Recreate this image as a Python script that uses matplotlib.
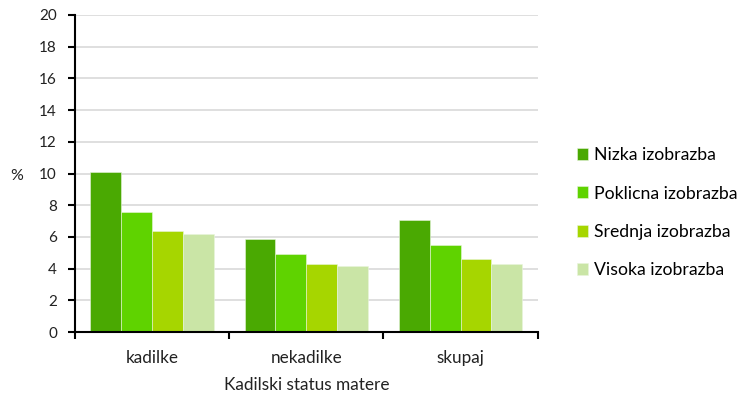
import numpy as np
import matplotlib.pyplot as plt

plt.rcParams['font.family'] = ['Lato', 'DejaVu Sans']

categories = ['kadilke', 'nekadilke', 'skupaj']
series = ['Nizka izobrazba', 'Poklicna izobrazba', 'Srednja izobrazba', 'Visoka izobrazba']
nizka = [10.1, 5.9, 7.1]
poklicna = [7.6, 4.9, 5.5]
srednja = [6.4, 4.3, 4.6]
visoka = [6.2, 4.2, 4.3]
colors = ['#4aa902', '#5fd300', '#a6d600', '#cae5a6']

fig = plt.figure(figsize=(7.38, 3.94), dpi=100)
ax = fig.add_axes([0.1016, 0.157, 0.627, 0.805])

x = np.arange(len(categories))
width = 0.2
for i, (vals, name) in enumerate(zip([nizka, poklicna, srednja, visoka], series)):
    ax.bar(x + (i - 1.5) * width, vals, width, color=colors[i], label=name,
           edgecolor='#e8f5dc', linewidth=0.4, zorder=3)

ax.set_xlim(-0.5, len(categories) - 0.5)
ax.set_ylim(0, 20)
ax.set_yticks(range(0, 21, 2))
ax.yaxis.grid(True, color='#d9d9d9', linewidth=1.2, zorder=0)

# category labels centred, tick marks on group boundaries
ax.set_xticks(x)
ax.set_xticklabels(categories, fontsize=12.3, color='#222222')
ax.set_xticks(np.arange(-0.5, len(categories), 1), minor=True)
ax.tick_params(axis='x', which='major', length=0, pad=13)
ax.tick_params(axis='x', which='minor', length=5, width=1.5, direction='out')
ax.tick_params(axis='y', length=5, width=1.5, direction='out', labelsize=11,
               labelcolor='#222222', pad=8)

for s in ['top', 'right']:
    ax.spines[s].set_visible(False)
for s in ['left', 'bottom']:
    ax.spines[s].set_linewidth(1.5)
    ax.spines[s].set_color('black')
    ax.spines[s].set_zorder(5)

ax.set_xlabel('Kadilski status matere', fontsize=12.4, color='#222222', labelpad=8)
fig.text(17 / 738, 1 - 176 / 394, '%', fontsize=11.5, color='#222222', ha='center', va='center')

handles, labels = ax.get_legend_handles_labels()
fig.legend(handles, labels, loc='center left', bbox_to_anchor=(0.772, 0.46),
           frameon=False, fontsize=12.7, handlelength=0.65, handleheight=0.65,
           handletextpad=0.35, labelspacing=1.27, borderaxespad=0)

fig.savefig('out.png', dpi=100)
